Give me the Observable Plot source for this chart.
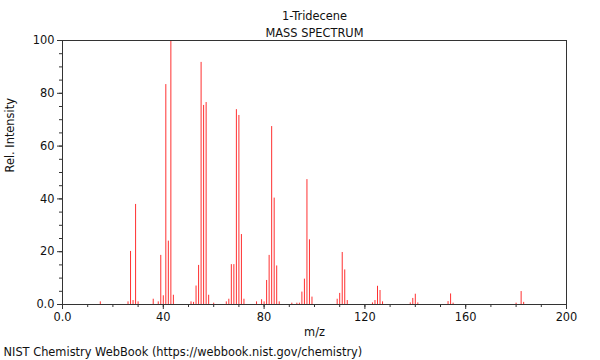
<!DOCTYPE html>
<html>
<head>
<meta charset="utf-8">
<script src="https://cdn.jsdelivr.net/npm/d3@7"></script>
<script src="https://cdn.jsdelivr.net/npm/@observablehq/plot@0.6"></script>
<style>
  html, body { margin: 0; padding: 0; background: #fff; }
  svg { font-family: "DejaVu Sans", sans-serif; }
</style>
</head>
<body>
<div id="chart"></div>
<script>
const title = "1-Tridecene";
const subtitle = "MASS SPECTRUM";
const xLabel = "m/z";
const yLabel = "Rel. Intensity";
const caption = "NIST Chemistry WebBook (https://webbook.nist.gov/chemistry)";

const mz = [15, 26, 27, 28, 29, 30, 36, 38, 39, 40, 41, 42, 43, 44,
  51, 52, 53, 54, 55, 56, 57, 58, 60, 65, 66, 67, 68, 69, 70, 71, 72,
  77, 79, 80, 81, 82, 83, 84, 85, 86, 91, 93, 94, 95, 96, 97, 98, 99,
  109, 110, 111, 112, 113, 123, 124, 125, 126, 127, 138, 139, 140, 141,
  153, 154, 155, 180, 182, 183];
const intensity = [1, 1, 20.1, 1.5, 37.9, 1, 2, 1, 18.6, 3.3, 83.3, 24, 100, 3.5,
  1, 0.8, 7, 14.8, 91.7, 75.4, 76.5, 3.5, 0.5, 1, 2, 15.1, 15.1, 73.8, 71.6, 26.5, 2,
  1, 1.8, 1, 9.1, 18.6, 67.4, 40.3, 14.6, 1, 0.5, 0.5, 0.5, 4.7, 9.6, 47.3, 24.5, 2.8,
  2, 4.2, 19.7, 13.1, 1.5, 0.6, 1.5, 6.9, 5.3, 1, 0.6, 2.3, 3.9, 0.6,
  1.1, 4, 0.5, 0.5, 4.9, 0.8];

const xMajor = [0, 40, 80, 120, 160, 200];
const xMinor = d3.range(0, 201, 10);
const yMajor = [0, 20, 40, 60, 80, 100];
const yMinor = d3.range(0, 101, 5);
const fmt = d => d === 0 ? "0.0" : String(d);
const none = () => "";

const peaks = mz.map((m, i) => ({mz: m, intensity: intensity[i]}));

const chart = Plot.plot({
  width: 600,
  height: 360,
  marginLeft: 62,
  marginRight: 34,
  marginTop: 40,
  marginBottom: 56,
  style: {fontSize: "11.4px", fontFamily: "DejaVu Sans, sans-serif", color: "#222", background: "#fff"},
  x: {domain: [0, 200]},
  y: {domain: [0, 100]},
  marks: [
    Plot.ruleX(peaks, {x: "mz", y1: 0, y2: "intensity", stroke: "#ff3030", strokeWidth: 1}),
    Plot.axisX({ticks: xMinor, tickSize: 3, tickFormat: none, label: null, stroke: "#333"}),
    Plot.axisX({ticks: xMajor, tickSize: 5, tickPadding: 3, tickFormat: fmt, label: null, stroke: "#333", fill: "#111"}),
    Plot.axisY({ticks: yMinor, tickSize: 3, tickFormat: none, label: null, stroke: "#333"}),
    Plot.axisY({ticks: yMajor, tickSize: 5, tickPadding: 3, tickFormat: fmt, label: null, stroke: "#333", fill: "#111"}),
    Plot.frame({stroke: "#333"}),
    Plot.text([title], {frameAnchor: "top", dy: -29, text: d => d, fill: "#111"}),
    Plot.text([subtitle], {frameAnchor: "top", dy: -12, text: d => d, fill: "#111"}),
    Plot.text([xLabel], {frameAnchor: "bottom", dy: 31, text: d => d, fill: "#111"}),
    Plot.text([yLabel], {frameAnchor: "left", dx: -52, rotate: -90, text: d => d, fill: "#111"}),
    Plot.text([caption], {frameAnchor: "bottom-left", dx: -59, dy: 51, textAnchor: "start", text: d => d, fill: "#111"})
  ]
});
document.getElementById("chart").appendChild(chart);
</script>
</body>
</html>
